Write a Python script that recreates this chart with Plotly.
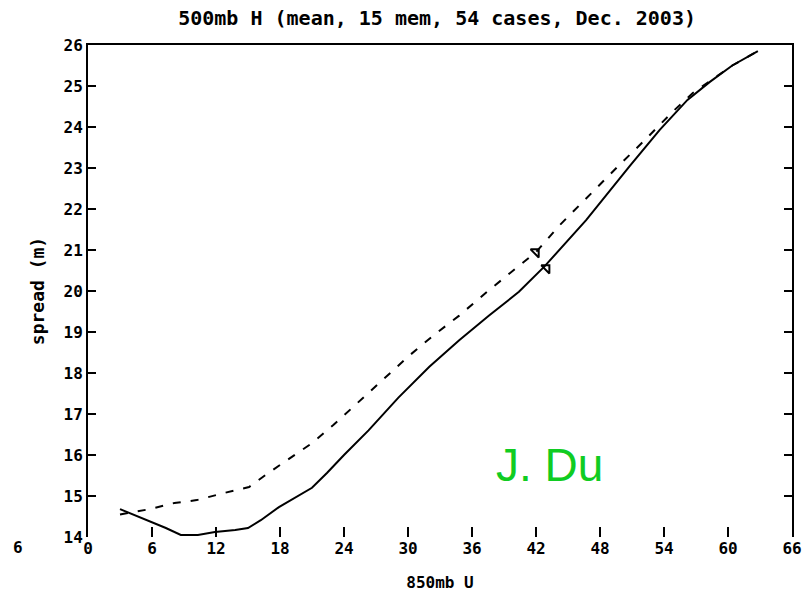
import plotly.graph_objects as go

# 850mb U (m/s) vs. ensemble spread of 500mb height (m)
solid_u = [3.0, 5.9, 7.3, 8.7, 10.3, 11.9, 13.8, 15.0, 16.2, 17.9, 19.5, 21.0, 22.4,
           24.0, 26.3, 29.1, 32.0, 34.8, 37.6, 40.4, 42.8, 44.8, 46.7, 50.8, 53.6,
           56.2, 58.3, 60.4, 62.8]
solid_s = [14.68, 14.37, 14.22, 14.05, 14.05, 14.12, 14.17, 14.22, 14.41, 14.73, 14.98,
           15.2, 15.56, 16.0, 16.6, 17.4, 18.15, 18.8, 19.4, 19.98, 20.6, 21.17, 21.73,
           23.05, 23.93, 24.66, 25.1, 25.5, 25.85]

dash_u = [3.0, 5.8, 8.1, 10.2, 12.7, 15.1, 16.9, 19.0, 21.0, 23.0, 25.4, 27.7, 30.1,
          32.4, 34.8, 37.4, 39.3, 42.0, 44.2, 47.0, 49.8, 52.2, 54.8, 56.7, 58.5,
          60.4, 62.8]
dash_s = [14.55, 14.68, 14.83, 14.9, 15.07, 15.22, 15.56, 15.93, 16.29, 16.73, 17.3,
          17.85, 18.42, 18.92, 19.4, 19.98, 20.39, 20.95, 21.6, 22.34, 23.07, 23.68,
          24.37, 24.83, 25.15, 25.5, 25.85]

# small markers on each curve
mark_u = [42.0, 43.0]
mark_s = [20.95, 20.56]

x_ticks = [0, 6, 12, 18, 24, 30, 36, 42, 48, 54, 60, 66]
y_ticks = [14, 15, 16, 17, 18, 19, 20, 21, 22, 23, 24, 25, 26]

PIX = "DejaVu Sans Mono"

fig = go.Figure()
fig.add_trace(go.Scatter(x=solid_u, y=solid_s, mode="lines",
                         line=dict(color="black", width=2), showlegend=False))
fig.add_trace(go.Scatter(x=dash_u, y=dash_s, mode="lines",
                         line=dict(color="black", width=2, dash="8px,10px"),
                         showlegend=False))
fig.add_trace(go.Scatter(x=mark_u, y=mark_s, mode="markers",
                         marker=dict(symbol="triangle-ne-open", size=9, color="black",
                                     line=dict(width=2, color="black")),
                         showlegend=False))

fig.update_layout(
    width=802, height=592,
    margin=dict(l=88, r=10, t=45, b=55),
    paper_bgcolor="white", plot_bgcolor="white",
    font=dict(family=PIX, color="black"),
    title=dict(text="<b>500mb H (mean, 15 mem, 54 cases, Dec. 2003)</b>",
               x=0.545, xanchor="center", y=0.97, yanchor="middle",
               font=dict(family=PIX, size=20, color="black")),
    xaxis=dict(range=[0, 66], tickvals=x_ticks,
               ticktext=["<b>%d</b>" % v for v in x_ticks],
               ticks="inside", ticklen=10, tickwidth=2, tickcolor="black",
               showline=False, showgrid=False, zeroline=False, automargin=False,
               tickfont=dict(family=PIX, size=16, color="black"),
               title=dict(text="<b>850mb U</b>", standoff=20,
                          font=dict(family=PIX, size=16, color="black"))),
    xaxis2=dict(range=[0, 66], overlaying="x", side="top", showline=True,
                linewidth=2, linecolor="black", showticklabels=False, ticks="",
                showgrid=False, zeroline=False, automargin=False),
    yaxis=dict(range=[14, 26], tickvals=y_ticks,
               ticktext=["<b>%d</b>" % v for v in y_ticks],
               ticks="inside", ticklen=8, tickwidth=2, tickcolor="black",
               showline=True, linewidth=2, linecolor="black", mirror="ticks",
               showgrid=False, zeroline=False, automargin=False,
               tickfont=dict(family=PIX, size=16, color="black"),
               title=dict(text="<b>spread (m)</b>", standoff=14,
                          font=dict(family=PIX, size=18, color="black"))),
)

# anchor trace for the top frame line
fig.add_trace(go.Scatter(x=[0], y=[14], xaxis="x2", mode="markers",
                         marker=dict(opacity=0), showlegend=False, hoverinfo="skip"))

fig.add_annotation(text="<b>6</b>", xref="paper", yref="paper", x=-0.11, y=-0.022,
                   showarrow=False, yanchor="middle",
                   font=dict(family=PIX, size=16, color="black"))
fig.add_annotation(text="J. Du", xref="x", yref="y", x=43.3, y=15.75,
                   showarrow=False,
                   font=dict(family="Liberation Sans, Arial", size=46, color="#10cc22"))

fig.write_html("out.html")
